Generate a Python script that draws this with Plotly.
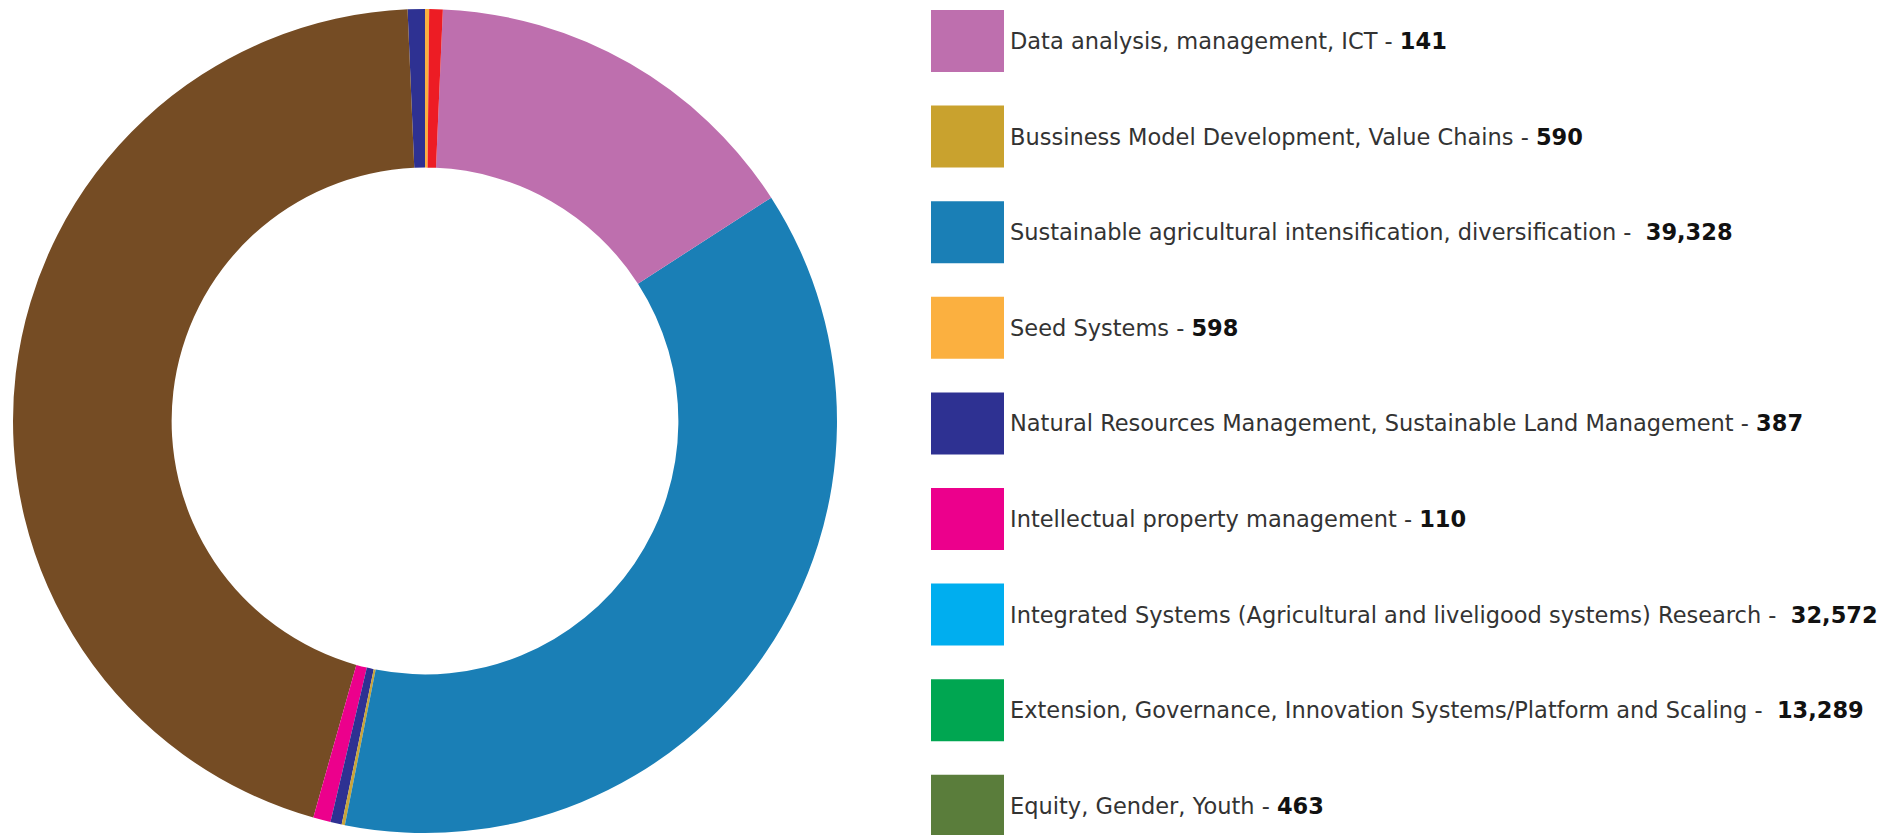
import plotly.graph_objects as go

# Research areas and the number of people trained in each
categories = [
    "Data analysis, management, ICT",
    "Bussiness Model Development, Value Chains",
    "Sustainable agricultural intensification, diversification",
    "Seed Systems",
    "Natural Resources Management, Sustainable Land Management",
    "Intellectual property management",
    "Integrated Systems (Agricultural and liveligood systems) Research",
    "Extension, Governance, Innovation Systems/Platform and Scaling",
    "Equity, Gender, Youth",
]
trained = [141, 590, 39328, 598, 387, 110, 32572, 13289, 463]
value_labels = ["141", "590", "39,328", "598", "387", "110", "32,572", "13,289", "463"]
wide_gap = [False, False, True, False, False, False, True, True, False]

# ring colours, in slice order
slice_colors = ["#FBB040", "#2E3192", "#754C24", "#EC008C", "#2E3192",
                "#C9A43A", "#1A7FB6", "#BE6FAE", "#ED1C24"]
# key swatch colours
key_colors = ["#BE6FAE", "#C9A22E", "#1A7FB6", "#FBB040", "#2E3192",
              "#EC008C", "#00AEEF", "#00A651", "#5A7D3B"]

W, H = 1896, 835
cx, cy, r = 425, 421, 412

fig = go.Figure(go.Pie(
    labels=categories,
    values=trained,
    sort=False,
    direction="counterclockwise",
    rotation=0,
    hole=0.615,
    marker=dict(colors=slice_colors, line=dict(width=0)),
    textinfo="none",
    hoverinfo="label+value",
    showlegend=False,
    domain=dict(x=[(cx - r) / W, (cx + r) / W],
                y=[(H - cy - r) / H, (H - cy + r) / H]),
))

# hand-built key on the right
shapes, annotations = [], []
sq_x0, sq_x1 = 931, 1004
top0, step, sq_h = 10, 95.6, 62
text_x = 1008
for i, (name, num, gap, col) in enumerate(zip(categories, value_labels, wide_gap, key_colors)):
    top = top0 + step * i
    shapes.append(dict(type="rect", xref="paper", yref="paper",
                       x0=sq_x0 / W, x1=sq_x1 / W,
                       y0=1 - (top + sq_h) / H, y1=1 - top / H,
                       fillcolor=col, line=dict(width=0), layer="above"))
    sep = " -&nbsp; " if gap else " - "
    annotations.append(dict(
        xref="paper", yref="paper", x=text_x / W, y=1 - (top + sq_h / 2) / H,
        xanchor="left", yanchor="middle", showarrow=False,
        text=f"{name}{sep}<b><span style='color:#111111'>{num}</span></b>",
        font=dict(family="DejaVu Sans, sans-serif", size=22.5, color="#333333"),
    ))

fig.update_layout(
    width=W, height=H,
    margin=dict(l=0, r=0, t=0, b=0),
    paper_bgcolor="white",
    plot_bgcolor="white",
    shapes=shapes,
    annotations=annotations,
    showlegend=False,
)

fig.write_html("out.html")
